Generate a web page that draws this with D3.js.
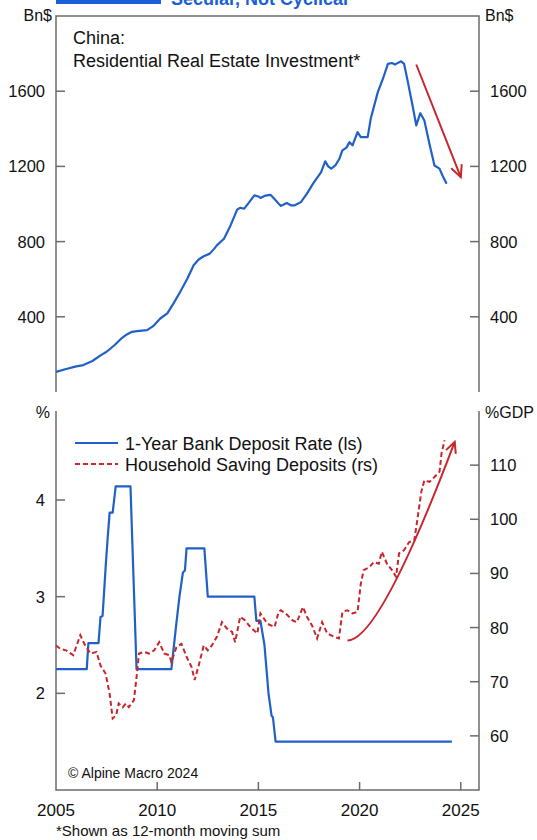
<!DOCTYPE html>
<html><head><meta charset="utf-8">
<script src="https://cdn.jsdelivr.net/npm/d3@7"></script>
<style>
html,body{margin:0;padding:0;background:#fff;}
svg{display:block;}
text{font-family:"Liberation Sans",Arial,Helvetica,sans-serif;fill:#111;}
</style></head>
<body>
<svg id="c" width="537" height="840"></svg>
<script>
// ---------- DATA ----------
const xTickYears = [2005, 2010, 2015, 2020, 2025];
const topTicks = [400, 800, 1200, 1600];
const leftTicks = [2, 3, 4];
const rightTicks = [60, 70, 80, 90, 100, 110];

// Residential real estate investment (Bn$, 12m sum)
const reYears = [2005.0,2005.5,2006.0,2006.35,2006.8,2007.2,2007.5,2007.9,2008.2,2008.5,2008.75,2009.0,2009.5,2009.8,2010.15,2010.5,2010.8,2011.14,2011.5,2011.8,2012.05,2012.3,2012.6,2012.8,2012.96,2013.3,2013.6,2013.95,2014.1,2014.3,2014.55,2014.8,2015.0,2015.1,2015.35,2015.6,2015.85,2016.1,2016.4,2016.6,2016.8,2017.1,2017.4,2017.7,2018.1,2018.3,2018.45,2018.6,2018.8,2019.0,2019.15,2019.35,2019.5,2019.65,2019.9,2020.06,2020.4,2020.55,2020.9,2021.15,2021.4,2021.6,2021.75,2021.85,2022.05,2022.2,2022.37,2022.6,2022.8,2023.0,2023.2,2023.45,2023.7,2023.95,2024.1,2024.3];
const reValues = [107,122,136,143,165,195,214,250,282,306,320,324,329,350,391,418,470,533,605,674,705,722,736,760,781,815,880,970,980,975,1010,1046,1040,1032,1045,1049,1020,990,1005,993,993,1010,1055,1108,1170,1227,1200,1188,1205,1240,1285,1300,1329,1312,1382,1356,1356,1453,1595,1665,1745,1750,1742,1748,1759,1745,1657,1533,1418,1483,1444,1320,1205,1188,1150,1108];

// 1-Year bank deposit rate (%, left scale)
const rateYears = [2005.0,2006.52,2006.6,2007.1,2007.2,2007.3,2007.38,2007.46,2007.55,2007.65,2007.8,2007.95,2008.68,2008.98,2010.7,2010.95,2011.1,2011.27,2011.37,2011.45,2012.33,2012.5,2014.8,2014.9,2015.1,2015.3,2015.4,2015.5,2015.65,2015.72,2015.85,2024.56];
const rateValues = [2.25,2.25,2.52,2.52,2.79,2.80,3.06,3.33,3.60,3.87,3.87,4.14,4.14,2.25,2.25,2.73,3.00,3.25,3.27,3.50,3.50,3.00,3.00,2.75,2.75,2.50,2.25,2.00,1.77,1.75,1.50,1.50];

// Household saving deposits (%GDP, right scale)
const depYears = [2005.0,2005.2,2005.5,2005.85,2006.2,2006.4,2006.7,2007.0,2007.2,2007.45,2007.65,2007.8,2007.97,2008.1,2008.3,2008.45,2008.6,2008.85,2009.0,2009.1,2009.35,2009.6,2009.85,2010.1,2010.35,2010.6,2010.7,2010.95,2011.2,2011.45,2011.7,2011.85,2012.05,2012.3,2012.5,2012.7,2012.95,2013.2,2013.45,2013.7,2013.85,2014.1,2014.35,2014.6,2014.95,2015.1,2015.45,2015.8,2016.0,2016.1,2016.35,2016.7,2016.9,2017.2,2017.4,2017.65,2017.9,2018.15,2018.4,2018.75,2018.98,2019.15,2019.4,2019.65,2019.9,2020.06,2020.2,2020.5,2020.7,2020.95,2021.1,2021.35,2021.6,2021.8,2021.95,2022.2,2022.45,2022.7,2022.85,2023.05,2023.2,2023.45,2023.7,2023.95,2024.05,2024.2];
const depValues = [76.7,76.1,75.8,74.9,78.6,77.0,75.2,75.5,73.0,71.5,67.8,63.2,63.8,66.0,65.3,66.0,65.3,66.6,71.5,75.2,75.5,75.2,75.8,77.3,75.2,74.9,73.6,76.4,77.0,74.6,72.7,70.3,73.0,76.7,75.8,76.7,78.3,81.0,79.8,79.2,77.3,82.0,81.3,80.1,78.9,82.6,80.7,80.1,82.9,83.2,82.6,81.3,81.0,83.8,82.0,80.4,78.0,81.0,78.9,78.3,78.0,82.9,83.2,82.6,82.9,88.1,90.6,91.2,92.1,91.8,94.0,91.8,90.6,89.4,93.7,94.3,95.8,96.1,99.8,105.1,107.2,106.9,107.8,108.8,112.2,114.6];

// Annotation arrows (data coordinates)
const topArrow = [[2022.8, 1742], [2025.0, 1143]];
const botArrow = [[2019.4, 77.6], [2021.0, 77.7], [2024.7, 114.3]]; // start, control, end

// ---------- SCALES ----------
const svg = d3.select("#c");
const x = d3.scaleLinear().domain([2005, 2025.9]).range([56, 479]);
const yTop = d3.scaleLinear().domain([0, 2000]).range([392, 16]);
const yL = d3.scaleLinear().domain([1, 4.9]).range([790, 413]);
const yR = d3.scaleLinear().domain([50, 120]).range([790, 411]);

const BLUE = "#2160c6", RED = "#c8262d", AX = "#6b6b6b";

// header remnant
svg.append("rect").attr("x", 56).attr("y", 0).attr("width", 105).attr("height", 4).attr("fill", "#1b5fd6");
svg.append("text").attr("x", 171).attr("y", 4.5).attr("font-size", 18).attr("font-weight", "bold")
  .style("fill", "#1b5fd6").text("Secular, Not Cyclical");

// ---------- TOP PANEL ----------
const gT = svg.append("g");
gT.append("path").attr("d", `M${x.range()[0]},${yTop(0)}V${yTop(2000)}H${x.range()[1]}V${yTop(0)}`)
  .attr("fill", "none").attr("stroke", AX).attr("stroke-width", 1.5);
topTicks.forEach(t => {
  gT.append("line").attr("x1", x.range()[0]).attr("x2", x.range()[0] + 9).attr("y1", yTop(t)).attr("y2", yTop(t)).attr("stroke", AX).attr("stroke-width", 1.5);
  gT.append("line").attr("x1", x.range()[1]).attr("x2", x.range()[1] - 9).attr("y1", yTop(t)).attr("y2", yTop(t)).attr("stroke", AX).attr("stroke-width", 1.5);
  gT.append("text").attr("x", 45).attr("y", yTop(t) + 6).attr("text-anchor", "end").attr("font-size", 16.5).text(t);
  gT.append("text").attr("x", 490).attr("y", yTop(t) + 6).attr("font-size", 16.5).text(t);
});
gT.append("text").attr("x", 52).attr("y", 21).attr("text-anchor", "end").attr("font-size", 16).text("Bn$");
gT.append("text").attr("x", 485).attr("y", 21).attr("font-size", 16).text("Bn$");
gT.append("text").attr("x", 73).attr("y", 44).attr("font-size", 18).text("China:");
gT.append("text").attr("x", 73).attr("y", 66.5).attr("font-size", 18).text("Residential Real Estate Investment*");

const lineTop = d3.line().x((d, i) => x(reYears[i])).y(d => yTop(d));
gT.append("path").attr("d", lineTop(reValues)).attr("fill", "none").attr("stroke", BLUE).attr("stroke-width", 2.2).attr("stroke-linejoin", "round");

function arrowHead(g, px, py, ang, len) {
  const a1 = ang + Math.PI - 0.45, a2 = ang + Math.PI + 0.45;
  g.append("path").attr("d", `M${px + len * Math.cos(a1)},${py + len * Math.sin(a1)}L${px},${py}L${px + len * Math.cos(a2)},${py + len * Math.sin(a2)}`)
    .attr("fill", "none").attr("stroke", RED).attr("stroke-width", 2).attr("stroke-linejoin", "miter");
}
{
  const p0 = [x(topArrow[0][0]), yTop(topArrow[0][1])], p1 = [x(topArrow[1][0]), yTop(topArrow[1][1])];
  gT.append("line").attr("x1", p0[0]).attr("y1", p0[1]).attr("x2", p1[0]).attr("y2", p1[1]).attr("stroke", RED).attr("stroke-width", 2);
  arrowHead(gT, p1[0], p1[1], Math.atan2(p1[1] - p0[1], p1[0] - p0[0]), 13);
}

// ---------- BOTTOM PANEL ----------
const gB = svg.append("g");
gB.append("path").attr("d", `M${x.range()[0]},${yR(120)}V${yL(1)}H${x.range()[1]}V${yR(120)}`)
  .attr("fill", "none").attr("stroke", AX).attr("stroke-width", 1.5);
leftTicks.forEach(t => {
  gB.append("line").attr("x1", x.range()[0]).attr("x2", x.range()[0] + 9).attr("y1", yL(t)).attr("y2", yL(t)).attr("stroke", AX).attr("stroke-width", 1.5);
  gB.append("text").attr("x", 45).attr("y", yL(t) + 6).attr("text-anchor", "end").attr("font-size", 16.5).text(t);
});
rightTicks.forEach(t => {
  gB.append("line").attr("x1", x.range()[1]).attr("x2", x.range()[1] - 9).attr("y1", yR(t)).attr("y2", yR(t)).attr("stroke", AX).attr("stroke-width", 1.5);
  gB.append("text").attr("x", 490).attr("y", yR(t) + 6).attr("font-size", 16.5).text(t);
});
xTickYears.forEach(t => {
  if (t > 2005) gB.append("line").attr("x1", x(t)).attr("x2", x(t)).attr("y1", yL(1)).attr("y2", yL(1) - 8).attr("stroke", AX).attr("stroke-width", 1.5);
  gB.append("text").attr("x", x(t)).attr("y", 816).attr("text-anchor", "middle").attr("font-size", 17).text(t);
});
gB.append("text").attr("x", 50).attr("y", 418).attr("text-anchor", "end").attr("font-size", 16).text("%");
gB.append("text").attr("x", 485).attr("y", 418).attr("font-size", 16).text("%GDP");

// legend
gB.append("line").attr("x1", 75).attr("x2", 118).attr("y1", 443).attr("y2", 443).attr("stroke", BLUE).attr("stroke-width", 2);
gB.append("text").attr("x", 125).attr("y", 449.5).attr("font-size", 18).text("1-Year Bank Deposit Rate (ls)");
gB.append("line").attr("x1", 75).attr("x2", 118).attr("y1", 464).attr("y2", 464).attr("stroke", RED).attr("stroke-width", 2).attr("stroke-dasharray", "5,3");
gB.append("text").attr("x", 125).attr("y", 470.5).attr("font-size", 18).text("Household Saving Deposits (rs)");

const lineRate = d3.line().x((d, i) => x(rateYears[i])).y(d => yL(d));
gB.append("path").attr("d", lineRate(rateValues)).attr("fill", "none").attr("stroke", BLUE).attr("stroke-width", 2.2).attr("stroke-linejoin", "round");
const lineDep = d3.line().x((d, i) => x(depYears[i])).y(d => yR(d));
gB.append("path").attr("d", lineDep(depValues)).attr("fill", "none").attr("stroke", RED).attr("stroke-width", 2).attr("stroke-dasharray", "5,3");

{
  const p0 = [x(botArrow[0][0]), yR(botArrow[0][1])], c = [x(botArrow[1][0]), yR(botArrow[1][1])], p1 = [x(botArrow[2][0]), yR(botArrow[2][1])];
  gB.append("path").attr("d", `M${p0}Q${c} ${p1}`).attr("fill", "none").attr("stroke", RED).attr("stroke-width", 2);
  arrowHead(gB, p1[0], p1[1], Math.atan2(p1[1] - c[1], p1[0] - c[0]), 12);
}

gB.append("text").attr("x", 68).attr("y", 778).attr("font-size", 14).text("© Alpine Macro 2024");
svg.append("text").attr("x", 56).attr("y", 836).attr("font-size", 15).text("*Shown as 12-month moving sum");
</script>
</body></html>
